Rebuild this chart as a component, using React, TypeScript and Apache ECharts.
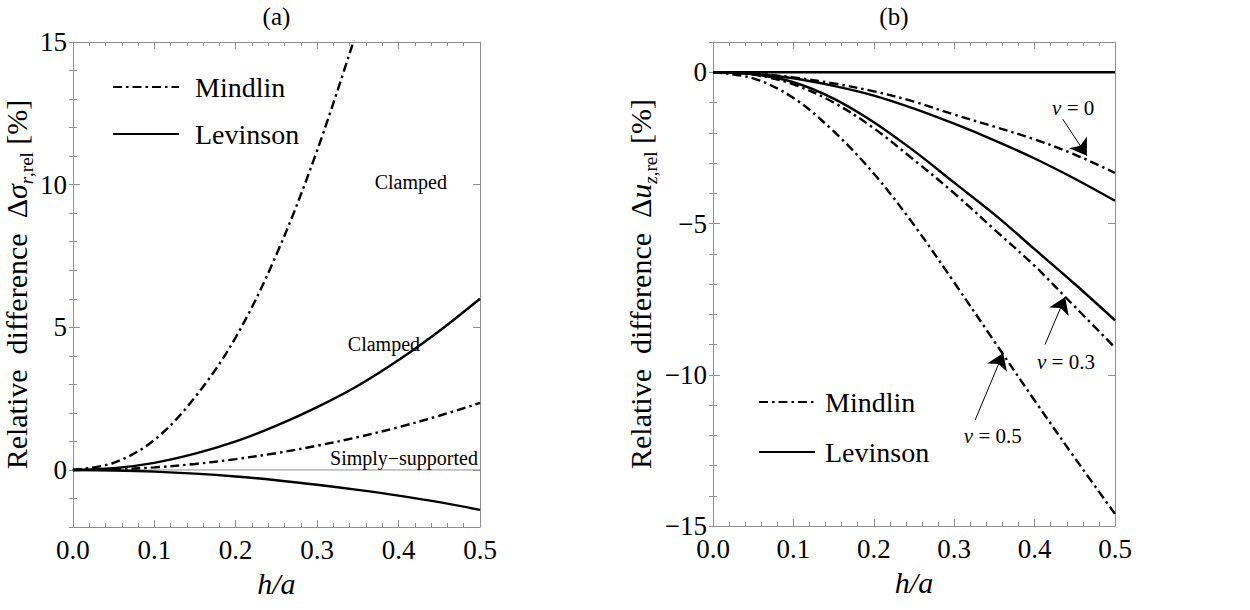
import React, { useEffect, useRef } from 'react';
import * as echarts from 'echarts';

// ---------- data ----------
const hA = [0, 0.05, 0.1, 0.15, 0.2, 0.25, 0.3, 0.35, 0.4, 0.45, 0.5];
const hAClamped = [0, 0.05, 0.1, 0.15, 0.2, 0.25, 0.3, 0.35];

// panel (a): relative difference of radial stress [%]
const mindlinClamped = [0, 0.25, 1.05, 2.55, 4.65, 7.55, 11.2, 15.5];
const levinsonClamped = [0, 0.06, 0.25, 0.57, 1.0, 1.55, 2.2, 2.95, 3.85, 4.87, 6.0];
const mindlinSimply = [0, 0.02, 0.09, 0.21, 0.38, 0.59, 0.85, 1.15, 1.5, 1.9, 2.35];
const levinsonSimply = [0, -0.02, -0.06, -0.13, -0.23, -0.36, -0.52, -0.7, -0.9, -1.13, -1.4];

// panel (b): relative difference of deflection [%]
const mindlinNu0 = [0, -0.04, -0.17, -0.37, -0.63, -0.97, -1.4, -1.8, -2.22, -2.72, -3.33];
const levinsonNu0 = [0, -0.05, -0.2, -0.45, -0.77, -1.2, -1.7, -2.25, -2.85, -3.52, -4.25];
const mindlinNu03 = [0, -0.08, -0.4, -1.0, -1.85, -2.9, -4.0, -5.2, -6.4, -7.75, -9.1];
const levinsonNu03 = [0, -0.07, -0.33, -0.87, -1.65, -2.6, -3.65, -4.7, -5.85, -7.0, -8.2];
const mindlinNu05 = [0, -0.2, -0.85, -1.95, -3.35, -5.05, -6.95, -8.9, -10.85, -12.75, -14.6];
const levinsonNu05 = [0, 0];
const hAEnds = [0, 0.5];

// ticks
const xMin = 0, xMax = 0.5, xStep = 0.1;
const yA = { min: -2, max: 15 };
const yB = { min: -15, max: 1 };
const yATicks = [0, 5, 10, 15];
const yBTicks = [-15, -10, -5, 0];
const yAMinor = [-2, -1, 0, 1, 2, 3, 4, 5, 6, 7, 8, 9, 10, 11, 12, 13, 14, 15];
const yBMinor = [-15, -14, -13, -12, -11, -10, -9, -8, -7, -6, -5, -4, -3, -2, -1, 0, 1];

// annotations (data coordinates)
const labelsA = [
  { text: 'Clamped', at: [0.415, 10.1] },
  { text: 'Clamped', at: [0.382, 4.4] },
  { text: 'Simply\u2212supported', at: [0.4975, 0.42], right: true },
];
const labelsB = [
  { nu: '0', at: [0.448, -1.18] },
  { nu: '0.3', at: [0.439, -9.57] },
  { nu: '0.5', at: [0.348, -12.04] },
];
const arrowsB = [
  { from: [0.435, -1.55], to: [0.465, -2.76] },
  { from: [0.413, -9.0], to: [0.438, -7.43] },
  { from: [0.326, -11.5], to: [0.361, -9.28] },
];

const pair = (xs: number[], ys: number[]) => xs.map((x, i) => [x, ys[i]]);

const FONT = 'Liberation Serif';
const GRAY = '#8f8f8f';
const DASHDOT = [9, 4, 2.5, 4];
const LW = 2.4;
const TICK_FS = 27;
const NAME_FS = 30;

const minus = (v: number) => String(v).replace('-', '\u2212');
const tickRich = { t: { fontFamily: FONT, fontSize: TICK_FS, color: '#000', lineHeight: 30 } };

function makeXAxes(grid: number) {
  const base: any = {
    type: 'value',
    gridIndex: grid,
    min: xMin,
    max: xMax,
    interval: xStep,
    splitLine: { show: false },
    axisLine: { show: true, onZero: false, lineStyle: { color: GRAY, width: 1 } },
    axisTick: { show: true, inside: true, length: 7, lineStyle: { color: GRAY, width: 1 } },
    minorTick: { show: true, splitNumber: 5, length: 4, lineStyle: { color: GRAY, width: 1 } },
  };
  return [
    {
      ...base,
      position: 'bottom',
      axisLabel: {
        show: true,
        fontFamily: FONT,
        fontSize: TICK_FS,
        color: '#000',
        margin: 8,
        formatter: (v: number) => `{t|${v.toFixed(1)}}`,
        rich: tickRich,
      },
      name: '{h|h/a}',
      nameLocation: 'middle',
      nameGap: 36,
      nameTextStyle: {
        fontFamily: FONT,
        fontSize: NAME_FS,
        fontStyle: 'italic',
        color: '#000',
        rich: { h: { fontFamily: FONT, fontSize: NAME_FS, fontStyle: 'italic', color: '#000', lineHeight: 34 } },
      },
    },
    { ...base, position: 'top', axisLabel: { show: false } },
  ];
}

function makeYAxes(grid: number, r: { min: number; max: number }, majors: number[], minors: number[], name: string, nameGap: number) {
  const common: any = { type: 'value', gridIndex: grid, min: r.min, max: r.max, splitLine: { show: false } };
  const line = { show: true, onZero: false, lineStyle: { color: GRAY, width: 1 } };
  const majorTick = { show: true, inside: true, length: 7, customValues: majors, lineStyle: { color: GRAY, width: 1 } };
  const minorTick = { show: true, inside: true, length: 4, customValues: minors, lineStyle: { color: GRAY, width: 1 } };
  return [
    {
      ...common,
      position: 'left',
      axisLine: line,
      axisTick: majorTick,
      axisLabel: {
        show: true,
        customValues: majors,
        fontFamily: FONT,
        fontSize: TICK_FS,
        color: '#000',
        margin: 6,
        formatter: (v: number) => `{t|${minus(v)}}`,
        rich: tickRich,
      },
      name,
      nameLocation: 'middle',
      nameGap,
      nameTextStyle: {
        fontFamily: FONT,
        fontSize: NAME_FS,
        color: '#000',
        rich: {
          n: { fontFamily: FONT, fontSize: NAME_FS, lineHeight: 40, verticalAlign: 'middle', color: '#000' },
          i: { fontFamily: FONT, fontSize: NAME_FS, lineHeight: 40, verticalAlign: 'middle', fontStyle: 'italic', color: '#000' },
          si: { fontFamily: FONT, fontSize: 19, lineHeight: 19, verticalAlign: 'bottom', fontStyle: 'italic', color: '#000' },
          s: { fontFamily: FONT, fontSize: 19, lineHeight: 19, verticalAlign: 'bottom', color: '#000' },
        },
      },
    },
    { ...common, position: 'left', axisLine: { show: false }, axisTick: minorTick, axisLabel: { show: false } },
    { ...common, position: 'right', axisLine: line, axisTick: majorTick, axisLabel: { show: false } },
    { ...common, position: 'right', axisLine: { show: false }, axisTick: minorTick, axisLabel: { show: false } },
  ];
}

function lineSeries(name: string, data: number[][], g: number, dashed: boolean, extra: any = {}) {
  return {
    type: 'line',
    name,
    data,
    xAxisIndex: g === 0 ? 0 : 2,
    yAxisIndex: g === 0 ? 0 : 4,
    showSymbol: false,
    symbol: 'none',
    smooth: 0.35,
    clip: true,
    silent: true,
    lineStyle: { color: '#000', width: LW, type: dashed ? DASHDOT : 'solid', cap: 'butt' },
    itemStyle: { color: '#000' },
    emphasis: { disabled: true },
    z: 3,
    ...extra,
  };
}

export default function App() {
  const ref = useRef<HTMLDivElement>(null);

  useEffect(() => {
    if (!ref.current) return;
    const chart = echarts.init(ref.current, null, { renderer: 'svg' });

    const legendText = {
      fontFamily: FONT,
      fontSize: 28,
      color: '#000',
      lineHeight: 32,
      rich: { l: { fontFamily: FONT, fontSize: 28, color: '#000', lineHeight: 32 } },
    };
    const hiddenSymbol = { color: 'rgba(0,0,0,0)', borderWidth: 0, opacity: 0 };

    const option: any = {
      animation: false,
      backgroundColor: '#fff',
      textStyle: { fontFamily: FONT },
      grid: [
        { left: 70, top: 42, width: 410, height: 485 },
        { left: 713, top: 42, width: 402, height: 484 },
      ],
      xAxis: [...makeXAxes(0), ...makeXAxes(1)],
      yAxis: [
        ...makeYAxes(0, yA, yATicks, yAMinor, '{n|Relative  difference  \u0394}{i|\u03c3}{si|r}{s|,rel}{n| [%]}', 28),
        ...makeYAxes(1, yB, yBTicks, yBMinor, '{n|Relative  difference  \u0394}{i|u}{si|z}{s|,rel}{n| [%]}', 53),
      ],
      legend: [
        {
          data: ['Mindlin', 'Levinson'],
          orient: 'vertical',
          left: 107,
          top: 66,
          itemWidth: 66,
          itemHeight: 1,
          itemGap: 15,
          selectedMode: false,
          itemStyle: hiddenSymbol,
          formatter: (n: string) => `{l|${n}}`,
          textStyle: { ...legendText, padding: [0, 0, 0, 11] },
        },
        {
          data: ['Mindlin', 'Levinson'],
          orient: 'vertical',
          left: 753,
          top: 381,
          itemWidth: 56,
          itemHeight: 1,
          itemGap: 18,
          selectedMode: false,
          itemStyle: hiddenSymbol,
          formatter: (n: string) => `{l|${n}}`,
          textStyle: { ...legendText, padding: [0, 0, 0, 5] },
        },
      ],
      series: [
        lineSeries('zeroA', pair(hAEnds, levinsonNu05), 0, false, {
          lineStyle: { color: GRAY, width: 1, type: 'solid' },
          smooth: false,
          z: 1,
        }),
        lineSeries('Mindlin', pair(hAClamped, mindlinClamped), 0, true),
        lineSeries('Levinson', pair(hA, levinsonClamped), 0, false),
        lineSeries('Mindlin', pair(hA, mindlinSimply), 0, true),
        lineSeries('Levinson', pair(hA, levinsonSimply), 0, false),

        lineSeries('zeroB', pair(hAEnds, levinsonNu05), 1, false, {
          smooth: false,
          markLine: {
            silent: true,
            animation: false,
            symbol: ['none', 'arrow'],
            symbolSize: 16,
            label: { show: false },
            emphasis: { disabled: true },
            lineStyle: { color: '#000', width: 1, type: 'solid' },
            data: arrowsB.map((a) => [{ coord: a.from }, { coord: a.to }]),
          },
        }),
        lineSeries('Mindlin', pair(hA, mindlinNu0), 1, true),
        lineSeries('Levinson', pair(hA, levinsonNu0), 1, false),
        lineSeries('Mindlin', pair(hA, mindlinNu03), 1, true),
        lineSeries('Levinson', pair(hA, levinsonNu03), 1, false),
        lineSeries('Mindlin', pair(hA, mindlinNu05), 1, true),
      ],
    };

    chart.setOption(option);

    const pxA = (p: number[]) => chart.convertToPixel({ xAxisIndex: 0, yAxisIndex: 0 }, p) as number[];
    const pxB = (p: number[]) => chart.convertToPixel({ xAxisIndex: 2, yAxisIndex: 4 }, p) as number[];

    const graphics: any[] = [];
    const tA = pxA([0.25, yA.max]);
    const tB = pxB([0.225, yB.max]);
    graphics.push({
      type: 'text',
      x: tA[0],
      y: 16,
      style: { text: '(a)', font: `25px ${FONT}`, fill: '#000', textAlign: 'center', textVerticalAlign: 'middle' },
    });
    graphics.push({
      type: 'text',
      x: tB[0],
      y: 16,
      style: { text: '(b)', font: `25px ${FONT}`, fill: '#000', textAlign: 'center', textVerticalAlign: 'middle' },
    });
    labelsA.forEach((l) => {
      const p = pxA(l.at);
      graphics.push({
        type: 'text',
        x: p[0],
        y: p[1],
        z: 10,
        style: {
          text: l.text,
          font: `20px ${FONT}`,
          fill: '#000',
          textAlign: l.right ? 'right' : 'center',
          textVerticalAlign: 'middle',
        },
      });
    });
    labelsB.forEach((l) => {
      const p = pxB(l.at);
      graphics.push({
        type: 'text',
        x: p[0],
        y: p[1],
        z: 10,
        style: {
          text: `{i|\u03bd} = ${l.nu}`,
          font: `21px ${FONT}`,
          fill: '#000',
          textAlign: 'center',
          textVerticalAlign: 'middle',
          rich: { i: { fontStyle: 'italic', fontFamily: FONT, fontSize: 21, fill: '#000' } },
        },
      });
    });

    chart.setOption({ graphic: graphics });

    return () => chart.dispose();
  }, []);

  return (
    <div
      ref={ref}
      style={{ position: 'fixed', left: 0, top: 0, width: 1250, height: 610, background: '#fff' }}
    />
  );
}
